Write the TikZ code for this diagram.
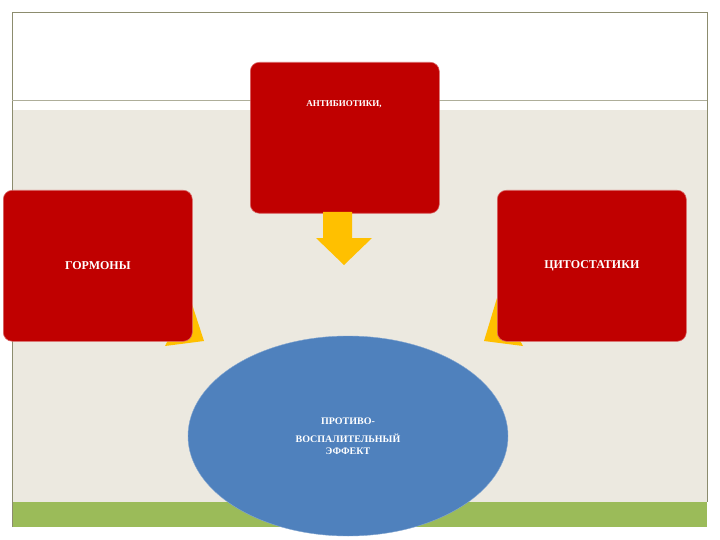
\documentclass[tikz,border=0pt]{standalone}
\usepackage{fontspec}
\setmainfont{Liberation Serif}
\usetikzlibrary{shapes.geometric}
\definecolor{redbox}{HTML}{C00000}
\definecolor{beige}{HTML}{ECE9E0}
\definecolor{olive}{HTML}{8C8C6E}
\definecolor{greenband}{HTML}{9BBB59}
\definecolor{ellblue}{HTML}{4F81BD}
\definecolor{arrowyel}{HTML}{FFC000}
\begin{document}
\begin{tikzpicture}[x=1pt,y=-1pt,
  redbox/.style={fill=redbox,draw=redbox!60!white,line width=0.6pt,rounded corners=9pt,minimum width=189pt,minimum height=151pt,text=white,font=\bfseries},
  yel/.style={fill=arrowyel}]
\useasboundingbox (0,0) rectangle (720,540);
\fill[white] (0,0) rectangle (720,540);
\fill[beige] (12,110) rectangle (707,502);
\fill[greenband] (12,502) rectangle (707,527);
\draw[olive,line width=0.6pt] (12,527) -- (12,12) -- (707,12) -- (707,502);
\draw[olive!70,line width=0.6pt] (12,100) -- (707,100);
% side arrows (partly hidden)
\fill[yel] (190,298) -- (204,341) -- (165,346) -- cycle;
\fill[yel] (497,298) -- (484,341) -- (523,346) -- cycle;
% down arrow
\node[redbox,anchor=north west,text depth=0pt] (anti) at (250,62) {};
\node[font=\bfseries\small,text=white] (antit) at (344,104) {АНТИБИОТИКИ,};
\fill[yel] (323,212) -- (352,212) -- (352,238) -- (372,238) -- (344,265) -- (316,238) -- (323,238) -- cycle;
\node[redbox,anchor=north west,font=\bfseries\large] (horm) at (3,190) {ГОРМОНЫ};
\node[redbox,anchor=north west,font=\bfseries\large] (cyto) at (497,190) {ЦИТОСТАТИКИ};
\node[ellipse,fill=ellblue,draw=ellblue!70!white,minimum width=320pt,minimum height=200pt,text=white,font=\bfseries,align=center] (eff) at (348,436) {ПРОТИВО-\\[6pt]ВОСПАЛИТЕЛЬНЫЙ\\ЭФФЕКТ};
\end{tikzpicture}
\end{document}
